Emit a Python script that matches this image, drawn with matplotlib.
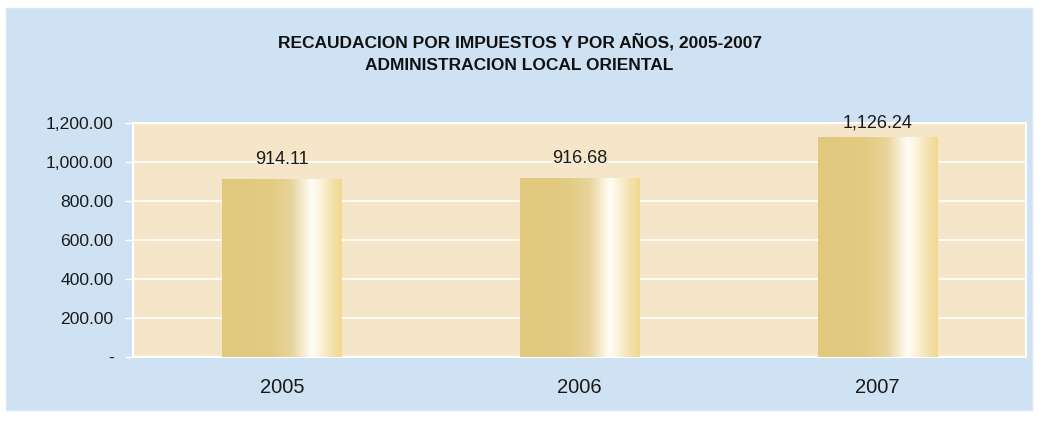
import numpy as np
import matplotlib
matplotlib.use("Agg")
import matplotlib.pyplot as plt
from matplotlib.colors import LinearSegmentedColormap
from matplotlib.patches import Rectangle

plt.rcParams['font.family'] = ['Liberation Sans', 'DejaVu Sans']

years = ['2005', '2006', '2007']
values = [914.11, 916.68, 1126.24]
yticks = [0, 200, 400, 600, 800, 1000, 1200]

W, H = 1039, 423
fig = plt.figure(figsize=(W / 100, H / 100), dpi=100)
fig.patch.set_facecolor('white')

# outer light blue panel
fig.patches.append(Rectangle((6 / W, 1 - 410 / H), 1026 / W, 402 / H,
                             transform=fig.transFigure, facecolor='#cfe2f3',
                             edgecolor='#d6e6f4', lw=1, zorder=-5))

ax = fig.add_axes([133 / W, 1 - 357 / H, 893 / W, 234 / H])
ax.set_facecolor('#f5e6c9')

x = np.arange(len(years))
bars = ax.bar(x, values, width=0.4, color='none', zorder=3)

grad = LinearSegmentedColormap.from_list('bar', [
    (0.0, '#e0c97d'), (0.4, '#e2cb82'), (0.58, '#e8d49c'),
    (0.68, '#f6edd2'), (0.75, '#fffdf6'), (0.82, '#fbf3dc'),
    (0.92, '#f4e2ac'), (1.0, '#f1d88f')])
g = np.linspace(0, 1, 256).reshape(1, -1)
for b in bars:
    x0, w, h = b.get_x(), b.get_width(), b.get_height()
    im = ax.imshow(g, cmap=grad, aspect='auto', extent=(x0, x0 + w, 0, h),
                   zorder=3, interpolation='bilinear')
    im.set_clip_path(b)

ax.set_xlim(-0.5, 2.5)
ax.set_ylim(0, 1200)

# value labels above bars, kept inside the top of the chart
for xi, v in zip(x, values):
    ax.text(xi, min(v + 77, 1175), f'{v:,.2f}', ha='center', va='baseline',
            fontsize=13, color='#1a1a1a', zorder=4, clip_on=False)

ax.set_yticks(yticks)
ax.set_yticklabels(['-' if t == 0 else f'{t:,.2f}' for t in yticks],
                   fontsize=12.6, color='#1a1a1a')
ax.yaxis.grid(True, color='white', lw=1.2, zorder=1)
ax.set_axisbelow(True)
ax.set_xticks(x)
ax.set_xticklabels(years, fontsize=14.5, color='#1a1a1a')
ax.tick_params(axis='y', length=6, color='white', width=1, pad=8)
ax.tick_params(axis='x', length=0, pad=15)
for s in ax.spines.values():
    s.set_color('white')
    s.set_linewidth(1.5)

fig.text(0.5, 1 - 42 / H, 'RECAUDACION POR IMPUESTOS Y POR AÑOS, 2005-2007',
         ha='center', va='center', fontsize=12.5, fontweight='bold', color='#111111')
fig.text(0.5, 1 - 65 / H, 'ADMINISTRACION LOCAL ORIENTAL',
         ha='center', va='center', fontsize=12.5, fontweight='bold', color='#111111')

fig.savefig('out.png', dpi=100, facecolor='white')
